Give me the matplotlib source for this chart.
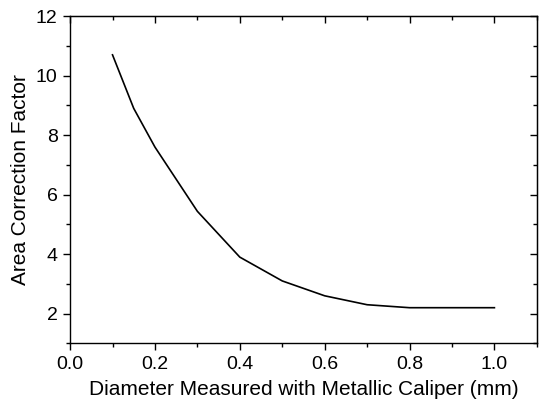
import matplotlib
matplotlib.use("Agg")
import matplotlib.pyplot as plt
from matplotlib.ticker import MultipleLocator

# data
diameter = [0.1, 0.15, 0.2, 0.3, 0.4, 0.5, 0.6, 0.7, 0.8, 1.0]
correction = [10.7, 8.9, 7.6, 5.44, 3.9, 3.1, 2.6, 2.3, 2.2, 2.2]

plt.rcParams['font.family'] = ['Liberation Sans', 'DejaVu Sans']

fig = plt.figure(figsize=(5.39, 4.04), dpi=100)
ax = fig.add_axes([0.13, 0.15, 0.866, 0.81])

ax.plot(diameter, correction, color="black", linewidth=1.2)

ax.set_xlim(0, 1.1)
ax.set_ylim(1, 12)
ax.xaxis.set_major_locator(MultipleLocator(0.2))
ax.xaxis.set_minor_locator(MultipleLocator(0.1))
ax.yaxis.set_major_locator(MultipleLocator(2))
ax.yaxis.set_minor_locator(MultipleLocator(1))
ax.xaxis.set_major_formatter(matplotlib.ticker.FormatStrFormatter("%.1f"))

# outward ticks on left/bottom
ax.tick_params(which="both", direction="out", labelsize=14, width=1, pad=4)
ax.tick_params(which="major", length=5)
ax.tick_params(which="minor", length=3)

# inward ticks on top/right
top = ax.secondary_xaxis("top")
top.xaxis.set_major_locator(MultipleLocator(0.2))
top.xaxis.set_minor_locator(MultipleLocator(0.1))
top.tick_params(which="both", direction="in", labeltop=False, width=1)
top.tick_params(which="major", length=5)
top.tick_params(which="minor", length=3)
right = ax.secondary_yaxis("right")
right.yaxis.set_major_locator(MultipleLocator(2))
right.yaxis.set_minor_locator(MultipleLocator(1))
right.tick_params(which="both", direction="in", labelright=False, width=1)
right.tick_params(which="major", length=5)
right.tick_params(which="minor", length=3)

for s in ax.spines.values():
    s.set_linewidth(1)

ax.set_xlabel("Diameter Measured with Metallic Caliper (mm)", fontsize=15, labelpad=5)
ax.set_ylabel("Area Correction Factor", fontsize=15, labelpad=4)

fig.savefig("out.png", dpi=100)
